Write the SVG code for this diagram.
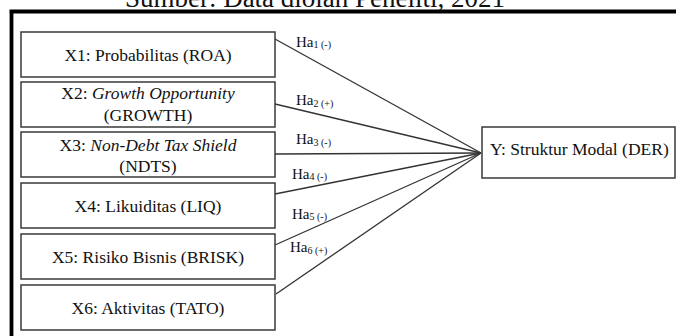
<svg xmlns="http://www.w3.org/2000/svg" width="676" height="336" viewBox="0 0 676 336">
<style>
text{font-family:'Liberation Serif',Tinos,'Times New Roman','DejaVu Serif',serif;fill:#111}
.box{fill:#fff;stroke:#3a3a3a;stroke-width:1.5}
.t{font-size:17.5px}
.c{text-anchor:middle}
.i{font-style:italic}
.lab{font-size:15px}
.sub{font-size:10px}
.edge{stroke:#333;stroke-width:1.3;fill:none}
</style>
<rect width="676" height="336" fill="#fff"/>
<text x="315" y="7" text-anchor="middle" style="font-size:27px">Sumber: Data diolah Peneliti, 2021</text>
<path d="M11.5 10 V336 M9.5 11.5 H676" stroke="#000" stroke-width="3.8" fill="none"/>
<g id="connectors">
<line class="edge" x1="275" y1="39" x2="481" y2="153"/>
<line class="edge" x1="275" y1="104" x2="481" y2="153"/>
<line class="edge" x1="275" y1="154" x2="481" y2="153"/>
<line class="edge" x1="275" y1="194" x2="481" y2="153"/>
<line class="edge" x1="275" y1="245" x2="481" y2="153"/>
<line class="edge" x1="276" y1="294" x2="481" y2="153"/>
<text x="296" y="46.5" class="lab">Ha<tspan class="sub" dy="1.5">1 (-)</tspan></text>
<text x="296" y="105" class="lab">Ha<tspan class="sub" dy="1.5">2 (+)</tspan></text>
<text x="296" y="144" class="lab">Ha<tspan class="sub" dy="1.5">3 (-)</tspan></text>
<text x="292" y="178.5" class="lab">Ha<tspan class="sub" dy="1.5">4 (-)</tspan></text>
<text x="292" y="218.5" class="lab">Ha<tspan class="sub" dy="1.5">5 (-)</tspan></text>
<text x="290" y="252" class="lab">Ha<tspan class="sub" dy="1.5">6 (+)</tspan></text>
</g>
<g id="x1"><rect class="box" x="21" y="32" width="254" height="45"/><text x="148" y="61" class="t c">X1: Probabilitas (ROA)</text></g>
<g id="x2"><rect class="box" x="21" y="82" width="254" height="45"/><text x="148" y="99" class="t c">X2: <tspan class="i">Growth Opportunity</tspan></text><text x="148" y="120.5" class="t c">(GROWTH)</text></g>
<g id="x3"><rect class="box" x="21" y="132" width="254" height="45"/><text x="148" y="151" class="t c">X3: <tspan class="i">Non-Debt Tax Shield</tspan></text><text x="148" y="172" class="t c">(NDTS)</text></g>
<g id="x4"><rect class="box" x="21" y="183" width="254" height="45"/><text x="148" y="212" class="t c">X4: Likuiditas (LIQ)</text></g>
<g id="x5"><rect class="box" x="21" y="234" width="254" height="45"/><text x="148" y="263" class="t c">X5: Risiko Bisnis (BRISK)</text></g>
<g id="x6"><rect class="box" x="21" y="285" width="254" height="45"/><text x="148" y="314" class="t c">X6: Aktivitas (TATO)</text></g>
<g id="y"><rect class="box" x="482" y="127" width="193" height="51"/><text x="490" y="155" class="t">Y: Struktur Modal (DER)</text></g>
</svg>
